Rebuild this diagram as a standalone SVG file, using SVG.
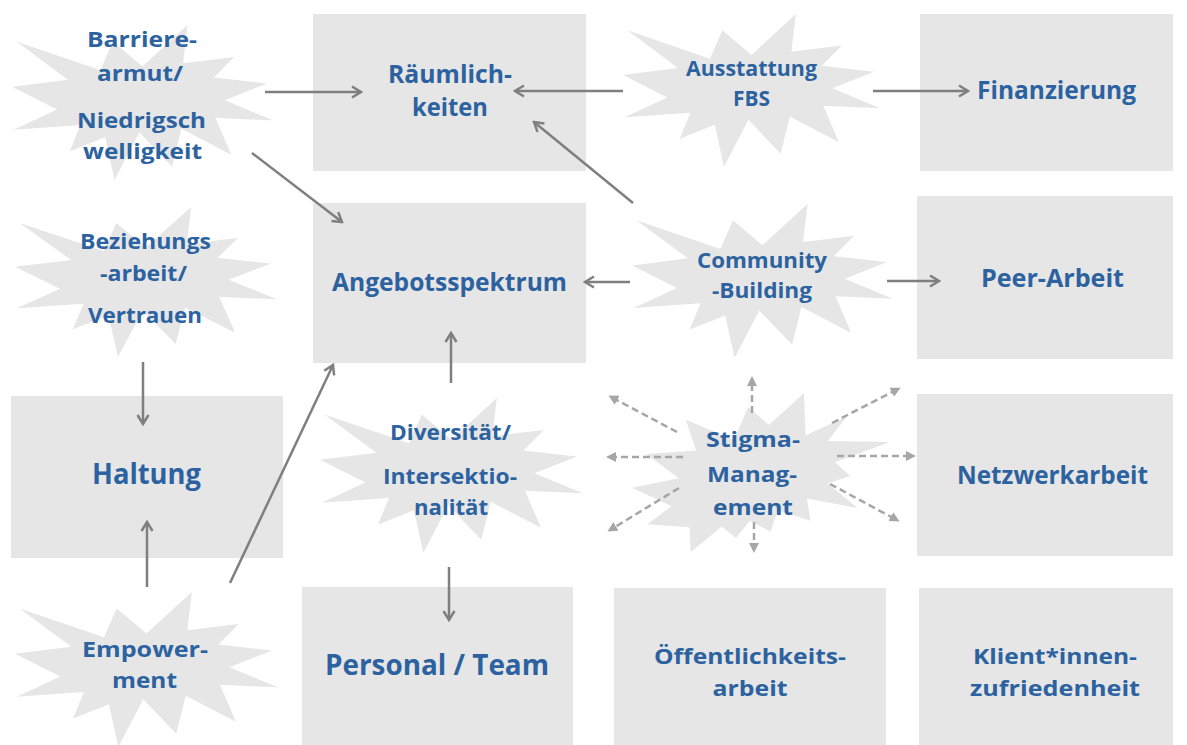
<svg xmlns="http://www.w3.org/2000/svg" xmlns:xlink="http://www.w3.org/1999/xlink" width="1187" height="745" viewBox="0 0 1187 745">
<style>
.box{fill:#e7e6e6}
.star{fill:#e7e6e6}
text{font-family:"Open Sans","Liberation Sans",sans-serif;font-weight:700;fill:#2c62a0;text-anchor:middle}
.s{font-size:22px}
.b{font-size:25px}
.m{font-size:22px}
.l{font-size:28px}
.con{stroke:#7f7f7f;stroke-width:2.5;fill:none;marker-end:url(#ah)}
.dash{stroke:#a6a6a6;stroke-width:2.5;fill:none;stroke-dasharray:7 4;marker-end:url(#dh)}
</style>
<defs>
<path id="seal1" d="M10800,5800 L8352,2295 7312,6320 370,2295 4627,7617 0,8615 3722,11775 135,14587 5667,13937 4762,17617 7715,15627 8485,21600 10532,14935 13247,19737 14020,14457 18145,18095 16837,12942 21600,13290 17607,10475 21097,8137 16702,7315 18380,4457 14155,5325 14522,0 Z"/>
<path id="seal2" d="M11464,4340 L9722,1887 8548,6383 4503,3626 5373,7816 1174,8270 3934,11592 0,12875 3329,15372 1283,17824 4804,18239 4918,21600 7525,18125 8698,19712 9871,17371 11614,18844 12178,15937 14943,17371 14640,14348 18878,15632 16382,12311 18270,11292 16986,9404 21600,6646 16382,6533 18005,3172 14524,5778 14400,0 Z"/>
<marker id="ah" viewBox="0 0 14 14" refX="12" refY="7" markerWidth="14" markerHeight="14" markerUnits="userSpaceOnUse" orient="auto">
<path d="M3,1.5 L12,7 L3,12.5" fill="none" stroke="#7f7f7f" stroke-width="2.5"/>
</marker>
<marker id="dh" viewBox="0 0 10 10" refX="7" refY="5" markerWidth="10" markerHeight="10" markerUnits="userSpaceOnUse" orient="auto">
<path d="M0,0 L10,5 L0,10 Z" fill="#a6a6a6"/>
</marker>
</defs>

<g id="raeumlichkeiten"><rect class="box" x="313" y="14" width="273" height="157"/>
<text class="b" x="450" y="83" textLength="124" lengthAdjust="spacingAndGlyphs">Räumlich-</text>
<text class="b" x="450" y="116" textLength="76" lengthAdjust="spacingAndGlyphs">keiten</text></g>
<g id="finanzierung"><rect class="box" x="920" y="14" width="253" height="157"/>
<text class="b" x="1056.5" y="99" textLength="159" lengthAdjust="spacingAndGlyphs">Finanzierung</text></g>
<g id="angebotsspektrum"><rect class="box" x="313" y="203" width="273" height="160"/>
<text class="b" x="449.5" y="291" textLength="235" lengthAdjust="spacingAndGlyphs">Angebotsspektrum</text></g>
<g id="peer-arbeit"><rect class="box" x="917" y="196" width="256" height="163"/>
<text class="b" x="1052.5" y="287" textLength="143" lengthAdjust="spacingAndGlyphs">Peer-Arbeit</text></g>
<g id="haltung"><rect class="box" x="11" y="396" width="272" height="162"/>
<text class="l" x="146.5" y="484" textLength="109" lengthAdjust="spacingAndGlyphs">Haltung</text></g>
<g id="netzwerkarbeit"><rect class="box" x="917" y="394" width="256" height="162"/>
<text class="b" x="1052.5" y="484" textLength="191" lengthAdjust="spacingAndGlyphs">Netzwerkarbeit</text></g>
<g id="personal"><rect class="box" x="302" y="587" width="271" height="158"/>
<text class="l" x="437" y="675" textLength="224" lengthAdjust="spacingAndGlyphs">Personal / Team</text></g>
<g id="oeffentlichkeitsarbeit"><rect class="box" x="614" y="588" width="272" height="157"/>
<text class="m" x="750" y="664" textLength="192" lengthAdjust="spacingAndGlyphs">Öffentlichkeits-</text>
<text class="m" x="750" y="696" textLength="75" lengthAdjust="spacingAndGlyphs">arbeit</text></g>
<g id="klientinnenzufriedenheit"><rect class="box" x="919" y="588" width="254" height="157"/>
<text class="m" x="1055" y="664" textLength="164" lengthAdjust="spacingAndGlyphs">Klient*innen-</text>
<text class="m" x="1055" y="696" textLength="170" lengthAdjust="spacingAndGlyphs">zufriedenheit</text></g>

<g id="barrierearmut"><use class="star" xlink:href="#seal1" transform="translate(12,25) scale(0.0120833,0.0071759)"/>
<text class="s" x="142" y="47" textLength="110" lengthAdjust="spacingAndGlyphs">Barriere-</text>
<text class="s" x="140" y="81" textLength="86" lengthAdjust="spacingAndGlyphs">armut/</text>
<text class="s" x="141.5" y="128" textLength="129" lengthAdjust="spacingAndGlyphs">Niedrigsch</text>
<text class="s" x="142.5" y="159" textLength="119" lengthAdjust="spacingAndGlyphs">welligkeit</text></g>
<g id="ausstattung"><use class="star" xlink:href="#seal1" transform="translate(623,14) scale(0.0118981,0.0070833)"/>
<text class="s" x="751.5" y="76" textLength="131" lengthAdjust="spacingAndGlyphs">Ausstattung</text>
<text class="s" x="751.5" y="106" textLength="37" lengthAdjust="spacingAndGlyphs">FBS</text></g>
<g id="beziehungsarbeit"><use class="star" xlink:href="#seal1" transform="translate(15,207) scale(0.0121296,0.0069444)"/>
<text class="s" x="145.5" y="249" textLength="131" lengthAdjust="spacingAndGlyphs">Beziehungs</text>
<text class="s" x="143.5" y="281" textLength="87" lengthAdjust="spacingAndGlyphs">-arbeit/</text>
<text class="s" x="145" y="323" textLength="114" lengthAdjust="spacingAndGlyphs">Vertrauen</text></g>
<g id="community"><use class="star" xlink:href="#seal1" transform="translate(632,204) scale(0.0120833,0.0071296)"/>
<text class="s" x="762" y="268" textLength="130" lengthAdjust="spacingAndGlyphs">Community</text>
<text class="s" x="762" y="298" textLength="100" lengthAdjust="spacingAndGlyphs">-Building</text></g>
<g id="stigma"><use class="star" xlink:href="#seal2" transform="translate(632,393) scale(0.0119444,0.0073611)"/>
<text class="s" x="753" y="447" textLength="94" lengthAdjust="spacingAndGlyphs">Stigma-</text>
<text class="s" x="752" y="482" textLength="90" lengthAdjust="spacingAndGlyphs">Manag-</text>
<text class="s" x="753" y="515" textLength="80" lengthAdjust="spacingAndGlyphs">ement</text></g>
<g id="diversitaet"><use class="star" xlink:href="#seal1" transform="translate(320,398) scale(0.0121759,0.0071759)"/>
<text class="s" x="450.5" y="440" textLength="121" lengthAdjust="spacingAndGlyphs">Diversität/</text>
<text class="s" x="450" y="484" textLength="134" lengthAdjust="spacingAndGlyphs">Intersektio-</text>
<text class="s" x="451" y="515" textLength="74" lengthAdjust="spacingAndGlyphs">nalität</text></g>
<g id="empowerment"><use class="star" xlink:href="#seal1" transform="translate(15,592) scale(0.0121759,0.0071759)"/>
<text class="s" x="145" y="657" textLength="126" lengthAdjust="spacingAndGlyphs">Empower-</text>
<text class="s" x="144.5" y="688" textLength="65" lengthAdjust="spacingAndGlyphs">ment</text></g>

<g id="connectors">
<line class="con" x1="265" y1="92" x2="361" y2="92"/>
<line class="con" x1="252" y1="153" x2="342" y2="222"/>
<line class="con" x1="623" y1="91" x2="515" y2="91"/>
<line class="con" x1="873" y1="91" x2="968" y2="91"/>
<line class="con" x1="633" y1="203" x2="534" y2="122"/>
<line class="con" x1="630" y1="282" x2="585" y2="282"/>
<line class="con" x1="887" y1="281" x2="939" y2="281"/>
<line class="con" x1="143" y1="362" x2="143" y2="424"/>
<line class="con" x1="147" y1="587" x2="147" y2="522"/>
<line class="con" x1="230" y1="583" x2="333" y2="365"/>
<line class="con" x1="451" y1="383" x2="451" y2="333"/>
<line class="con" x1="449" y1="567" x2="449" y2="620"/>
<line class="dash" x1="752" y1="413" x2="752" y2="379"/>
<line class="dash" x1="677" y1="432" x2="611" y2="397"/>
<line class="dash" x1="683" y1="457" x2="609" y2="457"/>
<line class="dash" x1="679" y1="488" x2="610" y2="530"/>
<line class="dash" x1="754" y1="522" x2="754" y2="550"/>
<line class="dash" x1="832" y1="423" x2="898" y2="389"/>
<line class="dash" x1="837" y1="456" x2="913" y2="456"/>
<line class="dash" x1="830" y1="484" x2="897" y2="520"/>
</g>
</svg>
